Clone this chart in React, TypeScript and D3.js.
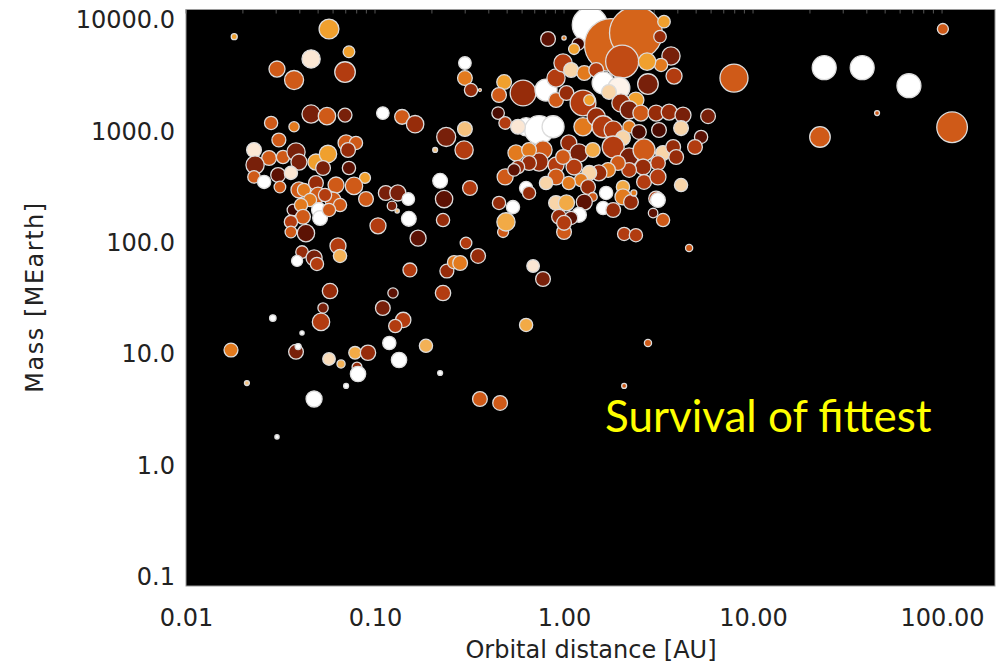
import React, { useRef, useEffect } from 'react';
import * as d3 from 'd3';

// [orbit AU, mass MEarth, size value, colour value]
const hotPlanets: number[][] = [
  [0.018, 7080, 1.2, 7], [0.0571, 8300, 13, 7], [0.0728, 5190, 4.5, 7], [0.0459, 4470, 11, 9],
  [0.0303, 3630, 8.5, 5], [0.0373, 2890, 12, 5], [0.0694, 3410, 14, 4], [0.0459, 1430, 11, 2],
  [0.0557, 1370, 10, 5], [0.0694, 1400, 6.4, 2], [0.0282, 1190, 5.8, 5], [0.0373, 1100, 3.5, 6],
  [0.11, 1460, 5.2, 10], [0.139, 1350, 7.2, 5], [0.163, 1160, 10, 3], [0.238, 891, 12, 2],
  [0.208, 681, 0.8, 8], [0.0229, 681, 7.2, 9], [0.031, 837, 6.4, 5], [0.0275, 577, 7.2, 5],
  [0.0326, 589, 5.8, 5], [0.0382, 653, 11, 2], [0.0396, 531, 8.5, 2], [0.0232, 499, 11, 2],
  [0.0229, 390, 5.2, 5], [0.0259, 352, 5.8, 10], [0.0307, 406, 7.2, 1], [0.0314, 317, 4.5, 5],
  [0.0359, 424, 5.8, 9], [0.0487, 531, 8.5, 7], [0.0564, 627, 10, 7], [0.0531, 469, 7.2, 2],
  [0.0703, 787, 8.5, 5], [0.0793, 787, 5.8, 5], [0.072, 681, 7.2, 3], [0.0728, 469, 5.8, 1],
  [0.0885, 382, 4, 7], [0.0774, 324, 10, 5], [0.0622, 330, 8.5, 5], [0.0396, 298, 8.5, 5],
  [0.0421, 298, 5.8, 6], [0.0487, 344, 7.2, 3], [0.0499, 268, 8.5, 5], [0.0599, 242, 8.5, 5],
  [0.0896, 247, 7.2, 5], [0.114, 280, 7.2, 2], [0.132, 280, 8.5, 2], [0.123, 214, 3, 2],
  [0.15, 247, 5.2, 10], [0.131, 193, 0.6, 8], [0.221, 360, 7.2, 10], [0.232, 247, 10, 1],
  [0.151, 164, 7.2, 10], [0.229, 160, 5.8, 3], [0.1037, 142, 8.5, 4], [0.0453, 242, 5.8, 6],
  [0.0544, 268, 5.8, 4], [0.0653, 218, 5.8, 5], [0.0368, 197, 4.5, 0], [0.0406, 218, 5.8, 6],
  [0.0505, 197, 7.2, 10], [0.0512, 167, 7.2, 10], [0.0416, 171, 7.2, 5], [0.0359, 154, 5.8, 4],
  [0.0571, 197, 5.8, 5], [0.0359, 125, 4.5, 5], [0.0431, 122, 10, 1], [0.0411, 82.6, 5.2, 3],
  [0.0476, 73.1, 8.5, 2], [0.0493, 64.6, 5.8, 4], [0.0387, 68.7, 4, 10], [0.0637, 93.6, 8.5, 4],
  [0.0653, 76.2, 5.8, 7.5], [0.169, 110, 8.5, 1], [0.153, 57, 6.4, 4], [0.24, 55.8, 6.4, 3],
  [0.0578, 36.9, 7.8, 3], [0.1245, 35.4, 3.5, 1], [0.229, 35.4, 7.8, 4], [0.0531, 26, 3.5, 2],
  [0.0518, 19.5, 10, 4], [0.11, 26, 7.2, 2], [0.141, 20.3, 7.8, 4], [0.128, 17.9, 5.8, 4],
  [0.0288, 21.1, 1.4, 10], [0.0411, 15.5, 0.6, 10], [0.0173, 10.9, 6.4, 6], [0.0382, 10.5, 7.2, 2],
  [0.0392, 11.7, 1.2, 10], [0.0571, 9.06, 5.2, 8.7], [0.0661, 8.17, 2.2, 7.5], [0.0784, 10.3, 5.2, 7.3],
  [0.0918, 10.3, 7.8, 3], [0.119, 12.6, 5.8, 10], [0.134, 8.87, 7.8, 10], [0.0803, 7.67, 3.2, 3],
  [0.0813, 6.64, 7.8, 10], [0.186, 11.9, 5.8, 7.5], [0.221, 6.78, 0.8, 10], [0.021, 5.51, 0.8, 8],
  [0.0703, 5.19, 0.8, 10], [0.0476, 3.96, 8.5, 10], [0.0303, 1.81, 0.6, 10],
];

const midPlanets: number[][] = [
  [0.262, 67, 5.8, 6], [0.476, 125, 4, 5], [1.0, 125, 7.2, 5], [2.08, 120, 5.8, 4],
  [2.4, 117, 5.8, 4], [0.303, 99.5, 4.5, 4], [0.351, 76.2, 7.2, 3], [0.282, 65.9, 7.2, 6],
  [0.686, 61.9, 5.2, 9], [0.774, 47.3, 7.2, 2], [4.59, 89.8, 1.7, 5], [0.63, 18.3, 5.8, 7.3],
  [2.78, 12.6, 1.7, 5], [2.08, 5.19, 0.8, 5], [0.359, 3.96, 7.2, 5], [0.459, 3.65, 7.2, 5],
];

const giantCluster: number[][] = [
  [1.37, 9020, 41, 10], [1.77, 5970, 92, 5.3], [2.4, 7640, 92, 5.3], [2.03, 4230, 36, 4.5],
  [0.823, 6750, 7.2, 1], [1.0, 6890, 0.6, 6], [1.19, 6090, 5.2, 0], [1.13, 5490, 4, 7],
  [3.38, 9660, 5.2, 7], [3.22, 7080, 5.2, 3], [3.68, 4750, 11, 2], [3.82, 3140, 8.5, 4],
  [3.26, 3950, 5.8, 6], [2.75, 4230, 10, 7], [2.78, 2660, 14, 2], [2.4, 1910, 8.5, 7],
  [0.299, 4110, 5.2, 10], [0.299, 3010, 7.2, 6], [0.322, 2350, 5.8, 3], [0.359, 2350, 0.3, 6],
  [0.482, 2770, 7.2, 7], [0.453, 2120, 7.2, 5], [0.607, 2210, 22, 3], [0.803, 2350, 16, 10],
  [0.907, 3010, 11, 4], [0.988, 4110, 11, 4], [1.09, 3560, 7.2, 8.5], [1.28, 3340, 7.2, 6],
  [1.48, 3560, 7.2, 4], [1.61, 2720, 16, 10], [1.95, 2450, 16, 9.5], [1.73, 2260, 7.2, 8.5],
  [0.907, 1910, 7.2, 5], [1.03, 2210, 7.2, 3], [1.26, 1800, 22, 4], [1.36, 1910, 4, 7],
  [2.0, 1800, 11, 3], [2.21, 1560, 11, 2], [2.55, 1460, 8.5, 5], [3.07, 1460, 8.5, 3],
  [3.6, 1490, 8.5, 3], [4.26, 1400, 8.5, 2], [5.78, 1370, 7.2, 2], [3.18, 1030, 7.2, 0.5],
  [4.16, 1070, 7.2, 8.5], [5.31, 891, 5.8, 1], [4.93, 724, 7.2, 4], [0.299, 1050, 7.2, 8],
  [0.296, 681, 11, 4], [0.448, 1460, 5.2, 0.5], [0.488, 1190, 5.2, 4], [0.63, 1100, 11, 10],
  [0.738, 1030, 27, 10], [0.875, 1100, 16, 10], [0.571, 1100, 7.2, 9], [0.557, 640, 8.5, 6],
  [0.774, 681, 11, 5], [0.738, 531, 11, 3], [0.907, 499, 8.5, 4], [1.06, 787, 8.5, 3],
  [1.26, 1100, 11, 6], [1.2, 640, 11, 2], [1.48, 1350, 11, 3], [1.61, 1100, 16, 4],
  [1.82, 1030, 11, 4], [2.21, 1100, 5.2, 6], [2.05, 873, 7.2, 8.5], [2.49, 989, 7.2, 0.5],
  [1.82, 724, 16, 4], [1.42, 681, 7.2, 7.3], [2.21, 589, 11, 2], [2.65, 681, 16, 5],
  [3.34, 640, 7.2, 8.5], [3.78, 724, 7.2, 3], [3.92, 589, 7.2, 3], [3.14, 520, 7.2, 4],
  [2.62, 479, 8.5, 3], [2.21, 451, 7.2, 4], [1.93, 520, 7.2, 5], [1.71, 451, 7.2, 6],
  [1.53, 424, 8.5, 3], [1.36, 424, 7.2, 8.5], [1.23, 366, 5.8, 6], [1.13, 479, 8.5, 4],
  [0.988, 589, 7.2, 5], [0.907, 390, 8.5, 5], [0.803, 344, 5.8, 8.5], [0.653, 681, 7.2, 6],
  [0.653, 520, 7.2, 3], [0.571, 479, 5.8, 3], [0.488, 390, 8.5, 5], [0.544, 451, 5.2, 1],
  [0.318, 310, 7.2, 4], [0.63, 310, 5.8, 10], [0.653, 280, 5.8, 3], [1.06, 344, 5.8, 6],
  [1.34, 317, 7.2, 3], [1.42, 258, 2.6, 5], [1.67, 280, 5.8, 10], [1.61, 205, 5.8, 10],
  [2.05, 317, 5.8, 7.3], [2.05, 258, 8.5, 6], [2.26, 232, 7.2, 3], [2.34, 280, 1.2, 6],
  [2.65, 352, 7.2, 4], [3.14, 390, 8.5, 4], [3.07, 250, 7.2, 4], [3.14, 242, 7.2, 10],
  [2.96, 185, 3, 1], [3.34, 160, 5.8, 5], [4.16, 330, 5.8, 8.5], [0.453, 228, 5.8, 3],
  [0.537, 209, 5.8, 10], [0.493, 154, 11, 7.3], [0.907, 228, 7.2, 8.5], [1.03, 228, 8.5, 7.3],
  [1.28, 232, 8.5, 1], [1.2, 178, 7.2, 10], [0.941, 171, 7.2, 3], [1.09, 167, 5.8, 1],
  [1.82, 197, 7.2, 3], [1.0, 151, 7.2, 4],
];

const farPlanets: number[][] = [
  [7.93, 3010, 26, 5], [22.6, 891, 14, 5], [23.8, 3730, 19, 10], [37.8, 3730, 19, 10],
  [66.8, 2570, 19, 10], [101, 8300, 4, 5], [45.3, 1460, 0.8, 5], [113, 1090, 31, 5],
];

const xTicks = [0.01, 0.1, 1, 10, 100];
const yTicks = [0.1, 1, 10, 100, 1000, 10000];
const tintStops = ['#3a0600', '#5c1204', '#78200a', '#962c0a', '#b23c10', '#cf5a18',
  '#e27a1e', '#f0a02e', '#f5c27e', '#fbe7d4', '#ffffff'];

export default function App() {
  const svgRef = useRef<SVGSVGElement>(null);

  useEffect(() => {
    const width = 1006;
    const height = 666;
    const plot = { left: 186, right: 995, top: 9.5, bottom: 586 };
    const font = '"DejaVu Sans", sans-serif';

    const svg = d3.select(svgRef.current).attr('width', width).attr('height', height);
    svg.selectAll('*').remove();

    // scales
    const x = d3.scaleLog().domain([0.01, 190.6]).range([plot.left, plot.right]);
    const y = d3.scaleLog().domain([0.083, 12420]).range([plot.bottom, plot.top]);
    const r = d3.scaleSqrt().domain([0, 100]).range([0, 27.5]);
    const colour = d3.scaleLinear<string>()
      .domain(d3.range(tintStops.length))
      .range(tintStops)
      .interpolate(d3.interpolateRgb);

    // plot background
    svg.append('rect')
      .attr('x', plot.left).attr('y', plot.top)
      .attr('width', plot.right - plot.left).attr('height', plot.bottom - plot.top)
      .attr('fill', '#000');

    svg.append('clipPath').attr('id', 'plot-clip')
      .append('rect')
      .attr('x', plot.left).attr('y', plot.top)
      .attr('width', plot.right - plot.left).attr('height', plot.bottom - plot.top);

    // faint minor ticks along the top
    const minor: number[] = [];
    for (let e = -2; e <= 2; e++) for (let k = 1; k < 10; k++) {
      const v = k * Math.pow(10, e);
      if (v <= 190) minor.push(v);
    }
    svg.append('g').selectAll('line').data(minor).enter().append('line')
      .attr('x1', d => x(d)).attr('x2', d => x(d))
      .attr('y1', plot.top).attr('y2', plot.top + 4)
      .attr('stroke', '#555').attr('stroke-width', 1);

    // planets
    const planets = [...hotPlanets, ...midPlanets, ...giantCluster, ...farPlanets];
    svg.append('g').attr('clip-path', 'url(#plot-clip)')
      .selectAll('circle')
      .data(planets)
      .enter()
      .append('circle')
      .attr('cx', d => x(d[0]))
      .attr('cy', d => y(d[1]))
      .attr('r', d => r(d[2]))
      .attr('fill', d => colour(d[3]))
      .attr('stroke', '#dcdcdc')
      .attr('stroke-width', 1.3);

    // frame
    svg.append('rect')
      .attr('x', plot.left).attr('y', plot.top)
      .attr('width', plot.right - plot.left).attr('height', plot.bottom - plot.top)
      .attr('fill', 'none').attr('stroke', '#9a9a9a').attr('stroke-width', 1);

    // x-axis
    svg.append('g')
      .attr('transform', `translate(0,${plot.bottom})`)
      .call(d3.axisBottom(x).tickValues(xTicks).tickFormat(d3.format('.2f')).tickSize(0).tickPadding(23))
      .call(g => g.select('.domain').remove())
      .attr('font-size', 24).attr('font-family', font)
      .selectAll('text').attr('fill', '#222');

    // y-axis
    svg.append('g')
      .attr('transform', `translate(${plot.left},0)`)
      .call(d3.axisLeft(y).tickValues(yTicks).tickFormat(d3.format('.1f')).tickSize(0).tickPadding(11))
      .call(g => g.select('.domain').remove())
      .attr('font-size', 24).attr('font-family', font)
      .selectAll('text').attr('fill', '#222');

    // axis titles
    svg.append('text')
      .attr('x', 591).attr('y', 658)
      .attr('text-anchor', 'middle')
      .attr('font-family', font).attr('font-size', 24)
      .attr('fill', '#222')
      .text('Orbital distance [AU]');

    svg.append('text')
      .attr('transform', 'translate(43,297) rotate(-90)')
      .attr('text-anchor', 'middle')
      .attr('font-family', font).attr('font-size', 24)
      .attr('letter-spacing', 1.5)
      .attr('fill', '#222')
      .text('Mass [MEarth]');

    // annotation
    svg.append('text')
      .attr('x', 605).attr('y', 432)
      .attr('font-family', 'Lato, sans-serif').attr('font-size', 44)
      .attr('fill', '#ffff00')
      .text('Survival of fittest');
  }, []);

  return (
    <svg ref={svgRef} style={{ position: 'absolute', left: 0, top: 0, display: 'block' }}></svg>
  );
}
